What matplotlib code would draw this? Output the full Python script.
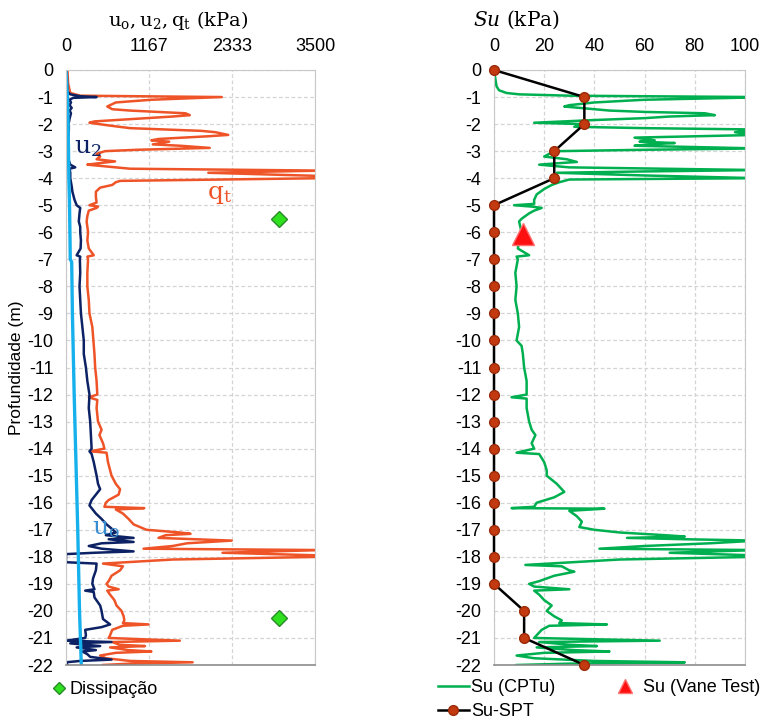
import numpy as np
import matplotlib
matplotlib.use("Agg")
import matplotlib.pyplot as plt
from matplotlib.lines import Line2D

plt.rcParams['font.family'] = ['Liberation Sans', 'DejaVu Sans']
plt.rcParams['mathtext.fontset'] = 'dejavuserif'

# ---- dados (profundidade em m, valores em kPa) ----
qt_profile = [
    (0, 20), (0.5, 30), (0.85, 60), (0.95, 200), (1.0, 2190), (1.03, 1900), (1.1, 1200),
    (1.2, 700), (1.35, 580), (1.45, 650), (1.5, 900), (1.55, 1300), (1.6, 1680), (1.67, 1740),
    (1.72, 1500), (1.8, 1000), (1.9, 400), (1.95, 330), (2.05, 600), (2.15, 900), (2.25, 1900),
    (2.3, 2100), (2.4, 2280), (2.45, 2000), (2.55, 1300), (2.6, 1200), (2.65, 1450), (2.75, 1220),
    (2.8, 1600), (2.88, 2020), (2.95, 1000), (3.0, 550), (3.1, 430), (3.2, 480), (3.3, 430),
    (3.38, 690), (3.45, 450), (3.5, 300), (3.65, 900), (3.72, 3600), (3.8, 2000), (3.92, 3600),
    (4.0, 3600), (4.1, 760), (4.15, 700), (4.25, 650), (4.35, 480), (4.5, 420), (4.7, 420),
    (4.9, 430), (5.0, 330), (5.05, 450), (5.1, 430), (5.2, 320), (5.4, 300), (5.6, 290),
    (5.8, 300), (6.0, 310), (6.3, 300), (6.6, 320), (6.85, 390), (6.9, 300), (7.0, 310),
    (7.5, 300), (8.0, 300), (8.5, 320), (9.0, 330), (9.5, 370), (10.0, 385), (10.5, 400),
    (11.0, 410), (11.5, 430), (12.0, 440), (12.1, 320), (12.2, 440), (12.5, 430), (13.0, 450),
    (13.3, 500), (13.5, 470), (13.8, 520), (14.0, 540), (14.1, 340), (14.15, 570), (14.5, 590),
    (15.0, 640), (15.3, 700), (15.5, 760), (15.7, 740), (15.9, 600), (16.0, 560), (16.15, 540),
    (16.2, 1100), (16.25, 700), (16.4, 800), (16.6, 880), (16.8, 950), (17.0, 1130), (17.1, 1600),
    (17.15, 1750), (17.2, 1400), (17.3, 1300), (17.35, 1800), (17.4, 2330), (17.5, 1700),
    (17.6, 1500), (17.7, 1090), (17.75, 3600), (17.85, 2200), (17.95, 3600), (18.0, 3600),
    (18.1, 1500), (18.25, 520), (18.35, 800), (18.5, 760), (18.7, 640), (18.9, 600), (19.0, 570),
    (19.1, 600), (19.2, 740), (19.25, 580), (19.4, 620), (19.6, 680), (19.8, 710), (20.0, 780),
    (20.2, 810), (20.35, 820), (20.45, 800), (20.5, 1160), (20.55, 800), (20.7, 650), (20.9, 620),
    (21.0, 600), (21.1, 1600), (21.15, 650), (21.25, 750), (21.3, 1110), (21.35, 620),
    (21.45, 880), (21.5, 1200), (21.55, 700), (21.65, 480), (21.75, 560), (21.85, 900),
    (21.9, 1780), (21.95, 900), (22.0, 520),
]

u2_profile = [
    (0, 10), (0.5, 15), (0.8, 20), (0.9, 60), (0.97, 200), (1.0, 430), (1.03, 100), (1.1, 50),
    (1.2, 70), (1.3, 50), (1.4, 80), (1.5, 50), (1.6, 70), (1.8, 50), (1.95, 40), (2.0, 0),
    (2.05, 40), (2.2, 40), (2.5, 35), (2.8, 30), (3.0, 25), (3.2, 10), (3.35, 40), (3.5, 60),
    (3.6, 130), (3.65, 50), (3.8, 60), (4.0, 60), (4.3, 80), (4.5, 90), (4.8, 120), (5.0, 150),
    (5.1, 200), (5.3, 190), (5.6, 180), (5.8, 200), (6.0, 200), (6.3, 210), (6.6, 205),
    (6.85, 150), (6.9, 200), (7.0, 195), (7.5, 200), (8.0, 190), (8.5, 200), (9.0, 210),
    (9.5, 230), (10.0, 250), (10.5, 250), (11.0, 280), (11.5, 300), (12.0, 330), (12.5, 320),
    (13.0, 340), (13.5, 350), (14.0, 360), (14.1, 330), (14.2, 360), (14.5, 390), (15.0, 430),
    (15.3, 450), (15.5, 480), (15.7, 420), (15.9, 360), (16.1, 330), (16.2, 360), (16.4, 420),
    (16.6, 500), (16.8, 570), (17.0, 660), (17.1, 700), (17.2, 560), (17.3, 950), (17.35, 600),
    (17.45, 950), (17.5, 500), (17.6, 320), (17.7, 500), (17.8, 950), (17.85, 400), (17.9, 0),
    (18.05, 0), (18.2, 0), (18.25, 430), (18.5, 420), (18.8, 380), (19.0, 370), (19.2, 400),
    (19.25, 270), (19.3, 390), (19.5, 400), (19.8, 480), (20.0, 500), (20.3, 520), (20.5, 620),
    (20.6, 500), (20.7, 270), (20.9, 280), (21.0, 270), (21.1, 0), (21.15, 640), (21.2, 60),
    (21.3, 480), (21.35, 150), (21.45, 420), (21.5, 230), (21.6, 300), (21.7, 340), (21.8, 640),
    (21.85, 200), (21.9, 0), (22.0, 20),
]

u0_profile = [
    (0, 0), (1.0, 20), (2.0, 30), (3.0, 35), (4.0, 40), (5.0, 50), (6.0, 55), (7.0, 60),
    (7.1, 80), (9.0, 90), (12.0, 115), (15.0, 145), (17.0, 165), (20.0, 190), (22.0, 215),
]

dissip_depth = [5.5, 20.25]
dissip_kpa = [3000, 3000]

su_cptu_profile = [
    (0, 0), (0.6, 1), (0.75, 2), (0.85, 5), (0.9, 10), (0.95, 30), (1.0, 105), (1.03, 96),
    (1.1, 60), (1.2, 40), (1.3, 30), (1.35, 28), (1.4, 34), (1.45, 40), (1.5, 46), (1.55, 60),
    (1.6, 84), (1.67, 88), (1.72, 70), (1.78, 60), (1.85, 40), (1.95, 16), (2.0, 35), (2.1, 32),
    (2.15, 60), (2.2, 105), (2.3, 96), (2.35, 100), (2.4, 105), (2.45, 80), (2.5, 56), (2.6, 64),
    (2.65, 58), (2.7, 72), (2.75, 62), (2.8, 56), (2.85, 80), (2.9, 105), (2.95, 60), (3.0, 26),
    (3.1, 22), (3.2, 20), (3.3, 29), (3.4, 33), (3.45, 25), (3.5, 18), (3.6, 30), (3.7, 105),
    (3.75, 60), (3.8, 25), (3.9, 60), (4.0, 105), (4.05, 30), (4.15, 26), (4.25, 23), (4.4, 20),
    (4.6, 17), (4.8, 16), (4.95, 16), (5.0, 8), (5.05, 15), (5.1, 19), (5.2, 16), (5.3, 14),
    (5.5, 11), (5.6, 10), (5.8, 10.5), (6.0, 11), (6.3, 10), (6.6, 9.5), (6.85, 14), (6.9, 9),
    (7.0, 9.5), (7.5, 8.5), (8.0, 9), (8.5, 8.5), (9.0, 9.5), (9.5, 10), (10.0, 9), (10.2, 11),
    (10.5, 11.5), (11.0, 12), (11.5, 13), (12.0, 13), (12.1, 7), (12.15, 13), (12.5, 13),
    (13.0, 14), (13.3, 15), (13.5, 16.5), (13.8, 15), (14.0, 16), (14.15, 9), (14.2, 18),
    (14.5, 20), (14.8, 21), (15.0, 21), (15.3, 25), (15.6, 28), (15.8, 24), (16.0, 17),
    (16.15, 16), (16.2, 7), (16.22, 44), (16.3, 30), (16.5, 33), (16.7, 35), (16.9, 34),
    (17.0, 40), (17.1, 50), (17.2, 68), (17.25, 76), (17.3, 53), (17.35, 76), (17.4, 105),
    (17.5, 86), (17.6, 60), (17.7, 42), (17.75, 105), (17.85, 70), (17.95, 105), (18.0, 105),
    (18.1, 50), (18.3, 12.5), (18.35, 27), (18.5, 30), (18.55, 32), (18.7, 24), (18.9, 18),
    (19.0, 14), (19.1, 16), (19.2, 30), (19.25, 16), (19.4, 18), (19.6, 20), (19.8, 23),
    (20.0, 21), (20.2, 24), (20.35, 27), (20.45, 26), (20.5, 45), (20.55, 22), (20.7, 19),
    (20.9, 17), (21.0, 16), (21.1, 66), (21.15, 18), (21.25, 30), (21.3, 41), (21.35, 17),
    (21.45, 32), (21.5, 46), (21.55, 20), (21.65, 9), (21.75, 16), (21.85, 40), (21.9, 76),
    (21.95, 30), (22.0, 9),
]

spt_depth = [0, 1, 2, 3, 4, 5, 6, 7, 8, 9, 10, 11, 12, 13, 14, 15, 16, 17, 18, 19, 20, 21, 22]
spt_su = [0, 36, 36, 24, 24, 0, 0, 0, 0, 0, 0, 0, 0, 0, 0, 0, 0, 0, 0, 0, 12, 12, 36]

vane_depth = [6.05]
vane_su = [11.5]

left_ticks = [0, 1167, 2333, 3500]
su_ticks = [0, 20, 40, 60, 80, 100]
depth_ticks = list(range(0, -23, -1))

# cores
c_qt = '#EE5427'
c_u2 = '#0C2264'
c_u0 = '#16B0EC'
c_su = '#00B050'
c_spt = '#C43A10'

W, H = 767, 719
fig = plt.figure(figsize=(W / 100, H / 100), dpi=100)

def px_axes(x0, x1, y0, y1):
    return fig.add_axes([x0 / W, 1 - y1 / H, (x1 - x0) / W, (y1 - y0) / H])

def style_axes(ax):
    ax.set_ylim(-22, 0)
    ax.set_yticks(depth_ticks)
    ax.set_yticklabels([str(d) for d in depth_ticks])
    ax.xaxis.tick_top()
    ax.tick_params(length=0, labelsize=13)
    ax.tick_params(axis='x', pad=11)
    ax.tick_params(axis='y', pad=9)
    ax.grid(True, color='#D4D4D4', linestyle=(0, (3, 2)), linewidth=0.9)
    ax.set_axisbelow(True)
    for s in ['top', 'left', 'right']:
        ax.spines[s].set_color('#C8C8C8')
    ax.spines['bottom'].set_color('#8C8C8C')
    ax.spines['bottom'].set_linewidth(1.2)

ax1 = px_axes(66, 315, 70, 665)
style_axes(ax1)
ax1.set_xlim(0, 3500)
ax1.set_xticks(left_ticks)
ax1.set_xticklabels([str(t) for t in left_ticks])

qt = np.array(qt_profile)
u2 = np.array(u2_profile)
u0 = np.array(u0_profile)
ax1.plot(qt[:, 1], -qt[:, 0], color=c_qt, lw=1.8)
ax1.plot(u2[:, 1], -u2[:, 0], color=c_u2, lw=1.8)
ax1.plot(u0[:, 1], -u0[:, 0], color=c_u0, lw=2.4)
ax1.plot(dissip_kpa, [-d for d in dissip_depth], linestyle='none', marker='D',
         markersize=8, markerfacecolor='#2EE01E', markeredgecolor='#2A8A2A', clip_on=False)

ax1.text(110, -2.85, r'$\mathrm{u_2}$', color=c_u2, fontsize=18, ha='left', va='center')
ax1.text(1980, -4.6, r'$\mathrm{q_t}$', color=c_qt, fontsize=18, ha='left', va='center')
ax1.text(360, -16.95, r'$\mathrm{u_o}$', color='#3A8CD0', fontsize=18, ha='left', va='center')

fig.text(178 / W, 1 - 20 / H, r'$\mathrm{u_o, u_2, q_t}$ (kPa)', ha='center', va='center',
         fontsize=14, family='DejaVu Serif')
fig.text(17 / W, 1 - 368 / H, 'Profundidade (m)', rotation=90, ha='center', va='center',
         fontsize=12.5)

leg1 = [Line2D([], [], linestyle='none', marker='D', markersize=6,
               markerfacecolor='#2EE01E', markeredgecolor='#2A8A2A')]
fig.legend(leg1, ['Dissipação'], loc='center left', bbox_to_anchor=(52 / W, 1 - 690 / H),
           bbox_transform=fig.transFigure, frameon=False, fontsize=13, handlelength=0.8,
           handletextpad=0.15, borderpad=0, borderaxespad=0)

ax2 = px_axes(494, 745, 70, 665)
style_axes(ax2)
ax2.set_xlim(0, 100)
ax2.set_xticks(su_ticks)
ax2.set_xticklabels([str(t) for t in su_ticks])

su = np.array(su_cptu_profile)
ax2.plot(su[:, 1], -su[:, 0], color=c_su, lw=1.8)
ax2.plot(spt_su, [-d for d in spt_depth], color='black', lw=1.8, marker='o', markersize=7,
         markerfacecolor=c_spt, markeredgecolor='#9A2A08', clip_on=False, zorder=5)
ax2.plot(vane_su, [-d for d in vane_depth], linestyle='none', marker='^', markersize=16,
         markerfacecolor='#FF1010', markeredgecolor='#FF7070', zorder=6)

fig.text(516 / W, 1 - 20 / H, r'$Su$ (kPa)', ha='center', va='center', fontsize=14.5,
         family='DejaVu Serif')

leg2 = [Line2D([], [], color=c_su, lw=1.8),
        Line2D([], [], color='black', lw=1.8, marker='o', markersize=7,
               markerfacecolor=c_spt, markeredgecolor='#9A2A08'),
        Line2D([], [], linestyle='none', marker='^', markersize=10,
               markerfacecolor='#FF1010', markeredgecolor='#FF7070')]
fig.legend(leg2, ['Su (CPTu)', 'Su-SPT', 'Su (Vane Test)'], ncol=2, loc='upper left',
           bbox_to_anchor=(438 / W, 1 - 679 / H), bbox_transform=fig.transFigure,
           frameon=False, fontsize=13, handlelength=1.7, handletextpad=0.15,
           columnspacing=3.0, labelspacing=0.4, borderpad=0, borderaxespad=0)

fig.savefig('out.png', dpi=100)
